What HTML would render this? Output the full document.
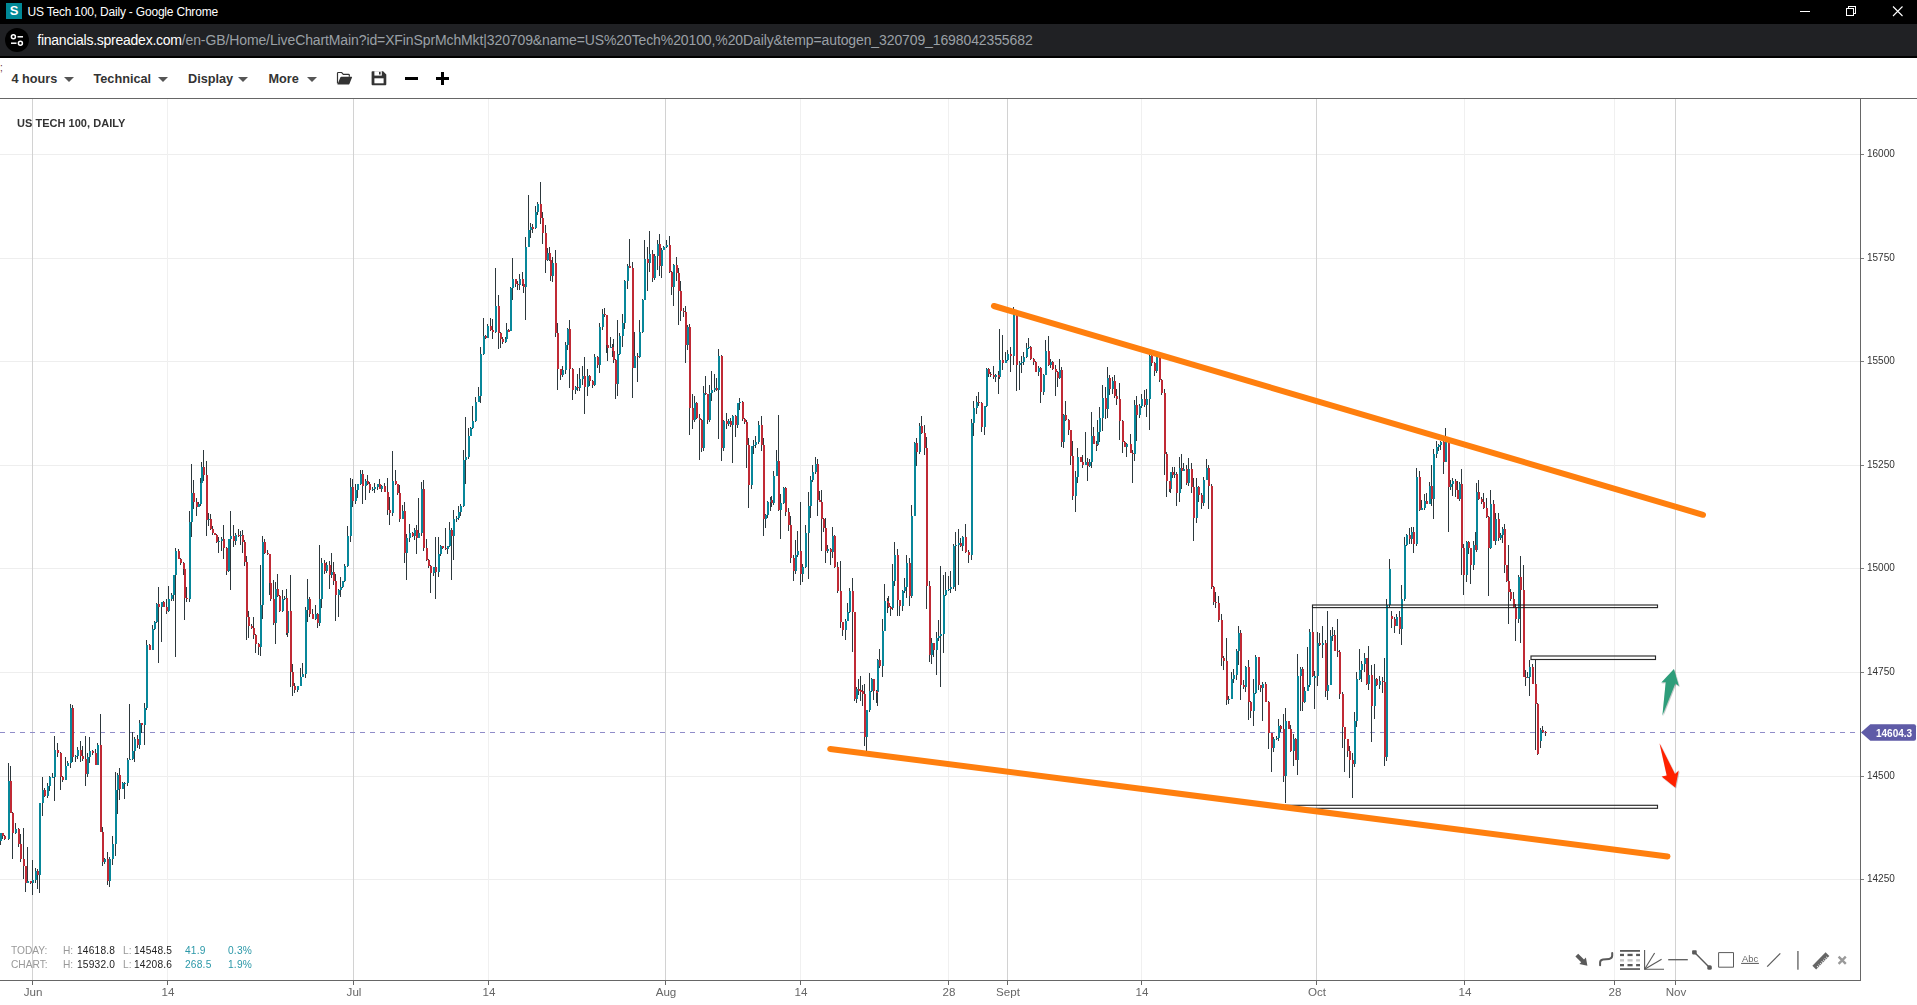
<!DOCTYPE html>
<html><head><meta charset="utf-8"><title>US Tech 100, Daily</title>
<style>
*{box-sizing:border-box;margin:0;padding:0}
html,body{width:1917px;height:1005px;overflow:hidden;background:#fff;font-family:"Liberation Sans",sans-serif;}
#root{position:relative;width:1917px;height:1005px;overflow:hidden;background:#fff}
#titlebar{position:absolute;left:0;top:0;width:1917px;height:24px;background:#000}
#fav{position:absolute;left:6px;top:3px;width:16px;height:16px;background:#008896;color:#fff;font-weight:bold;font-size:13px;line-height:16px;text-align:center}
#title{position:absolute;left:27.5px;top:5px;color:#fff;font-size:12px;line-height:15px;white-space:nowrap;letter-spacing:-0.2px}
#urlbar{position:absolute;left:0;top:24px;width:1917px;height:32px;background:#202124}
#urlsep{position:absolute;left:0;top:56px;width:1917px;height:2px;background:#000}
#tune{position:absolute;left:5px;top:4px;width:24px;height:24px;border-radius:12px;background:#000}
#url{position:absolute;left:37.3px;top:7px;font-size:14px;line-height:18px;color:#9aa0a6;white-space:nowrap;letter-spacing:-0.11px}
#url b{color:#fff;font-weight:normal;letter-spacing:-0.25px}
#toolbar{position:absolute;left:0;top:58px;width:1917px;height:40px;background:#fff}
#tbline{position:absolute;left:0;top:98px;width:1917px;height:1px;background:#666}
.tb{position:absolute;top:13px;font-size:12.7px;line-height:16px;font-weight:bold;color:#333;white-space:nowrap}
.car{position:absolute;top:19px;width:0;height:0;border-left:5px solid transparent;border-right:5px solid transparent;border-top:5px solid #555}
#chartwrap{position:absolute;left:0;top:0;width:1917px;height:1005px}
#charttitle{position:absolute;left:16.5px;top:117px;font-size:11px;letter-spacing:0.03px;line-height:13px;font-weight:bold;color:#333;white-space:nowrap}
#yaxis{position:absolute;left:1860px;top:99px;width:1px;height:882px;background:#666}
#xaxis{position:absolute;left:0;top:980px;width:1861px;height:1px;background:#666}
.yl{position:absolute;left:1867px;font-size:10px;letter-spacing:0px;line-height:13px;color:#333;margin-top:0px}
.yt{position:absolute;left:1861px;width:3px;height:1px;background:#7a7a7a}
.xl{position:absolute;top:984px;width:60px;text-align:center;font-size:11.6px;line-height:15px;color:#666}
.xt{position:absolute;top:981px;width:1px;height:4px;background:#666}
#ptag{position:absolute;left:1861px;top:724px;width:56px;height:17px}
#ptagtxt{position:absolute;left:1875.8px;top:726.5px;font-size:10px;line-height:13px;font-weight:bold;color:#fff}
.st{position:absolute;font-size:10.2px;line-height:12px;white-space:nowrap;letter-spacing:0px}
.g{color:#999}.d{color:#222;letter-spacing:0.2px}.t{color:#2b98a8;letter-spacing:0.2px}
#semi{position:absolute;left:0;top:62px;font-size:10px;color:#6a3030;line-height:12px}
.yl,.xl,.st,#charttitle,#ptagtxt{will-change:transform}
</style></head><body><div id="root">
<div id="chartwrap"><svg id="chart" width="1917" height="1005" viewBox="0 0 1917 1005">
<g shape-rendering="crispEdges"><rect x="0" y="154.0" width="1860" height="1" fill="#eeeeee"/><rect x="0" y="258.0" width="1860" height="1" fill="#eeeeee"/><rect x="0" y="361.0" width="1860" height="1" fill="#eeeeee"/><rect x="0" y="465.0" width="1860" height="1" fill="#eeeeee"/><rect x="0" y="568.0" width="1860" height="1" fill="#eeeeee"/><rect x="0" y="672.0" width="1860" height="1" fill="#eeeeee"/><rect x="0" y="776.0" width="1860" height="1" fill="#eeeeee"/><rect x="0" y="879.0" width="1860" height="1" fill="#eeeeee"/><rect x="32" y="99" width="1" height="881" fill="#d2d2d2"/><rect x="167" y="99" width="1" height="881" fill="#f0f0f0"/><rect x="353" y="99" width="1" height="881" fill="#d2d2d2"/><rect x="488" y="99" width="1" height="881" fill="#f0f0f0"/><rect x="665" y="99" width="1" height="881" fill="#d2d2d2"/><rect x="800" y="99" width="1" height="881" fill="#f0f0f0"/><rect x="948" y="99" width="1" height="881" fill="#f0f0f0"/><rect x="1007" y="99" width="1" height="881" fill="#d2d2d2"/><rect x="1141" y="99" width="1" height="881" fill="#f0f0f0"/><rect x="1316" y="99" width="1" height="881" fill="#d2d2d2"/><rect x="1464" y="99" width="1" height="881" fill="#f0f0f0"/><rect x="1614" y="99" width="1" height="881" fill="#f0f0f0"/><rect x="1675" y="99" width="1" height="881" fill="#d2d2d2"/></g>
<path d="M0 732.5H1856" stroke="#8f8cc9" stroke-width="1" stroke-dasharray="5 5" fill="none"/>
<g shape-rendering="crispEdges"><path d="M0 832.9h1V845.1h-1zM2 833.2h1V839.1h-1zM4 834.8h1V839.6h-1zM8 763.3h1V839.5h-1zM10 766.3h1V812.8h-1zM12 812.2h1V858.8h-1zM15 822.8h1V833.9h-1zM18 828.1h1V847.3h-1zM20 833.6h1V861.8h-1zM23 827.5h1V879.4h-1zM25 866.1h1V892.2h-1zM27 846.9h1V883.2h-1zM30 880.8h1V884.0h-1zM32 860.3h1V894.6h-1zM35 867.7h1V883.3h-1zM37 869.1h1V888.7h-1zM39 802.5h1V893.1h-1zM42 777.3h1V815.5h-1zM44 788.2h1V797.4h-1zM47 782.6h1V798.2h-1zM49 776.1h1V791.2h-1zM52 772.5h1V778.3h-1zM54 736.4h1V800.6h-1zM57 743.2h1V757.4h-1zM60 751.6h1V790.4h-1zM62 776.3h1V781.6h-1zM65 757.3h1V780.3h-1zM67 760.9h1V766.4h-1zM70 704.2h1V768.3h-1zM72 705.1h1V761.8h-1zM75 754.5h1V761.5h-1zM77 746.7h1V758.9h-1zM80 740.9h1V762.2h-1zM82 745.7h1V761.1h-1zM85 736.4h1V785.7h-1zM87 753.1h1V777.4h-1zM89 737.3h1V763.4h-1zM92 750.2h1V754.5h-1zM95 749.0h1V764.9h-1zM97 743.2h1V765.4h-1zM100 714.0h1V832.2h-1zM102 826.8h1V866.3h-1zM104 857.8h1V863.5h-1zM107 851.6h1V885.1h-1zM109 856.7h1V887.2h-1zM112 836.4h1V864.8h-1zM115 772.2h1V855.8h-1zM117 773.3h1V814.0h-1zM119 767.7h1V799.7h-1zM122 782.1h1V789.3h-1zM124 781.8h1V799.1h-1zM127 758.0h1V785.8h-1zM129 704.2h1V760.3h-1zM132 731.9h1V760.4h-1zM134 736.5h1V762.1h-1zM137 735.3h1V747.9h-1zM139 719.6h1V749.3h-1zM141 722.8h1V733.1h-1zM144 702.8h1V745.4h-1zM146 639.8h1V709.8h-1zM149 643.6h1V650.2h-1zM152 625.4h1V650.1h-1zM154 621.2h1V629.8h-1zM156 603.0h1V622.9h-1zM158 587.2h1V663.3h-1zM161 601.5h1V642.4h-1zM163 600.5h1V606.7h-1zM166 599.3h1V614.4h-1zM168 586.3h1V612.1h-1zM171 593.1h1V600.7h-1zM173 574.8h1V601.2h-1zM175 548.4h1V657.3h-1zM178 549.0h1V559.1h-1zM180 558.4h1V564.8h-1zM183 562.2h1V575.4h-1zM184 568.6h1V620.0h-1zM186 587.1h1V601.7h-1zM189 511.0h1V601.8h-1zM191 464.2h1V537.0h-1zM193 479.7h1V509.1h-1zM196 497.9h1V515.5h-1zM198 502.0h1V507.2h-1zM200 477.5h1V506.2h-1zM201 461.9h1V484.1h-1zM203 449.9h1V481.1h-1zM206 461.2h1V536.4h-1zM208 512.8h1V526.0h-1zM210 513.8h1V529.9h-1zM212 526.4h1V535.0h-1zM214 533.3h1V535.0h-1zM216 533.8h1V543.4h-1zM218 536.8h1V553.4h-1zM221 537.3h1V550.6h-1zM223 525.4h1V559.2h-1zM226 546.8h1V574.6h-1zM228 538.5h1V571.5h-1zM230 511.0h1V589.6h-1zM233 524.5h1V547.3h-1zM235 532.6h1V544.6h-1zM238 529.3h1V536.7h-1zM240 531.1h1V544.8h-1zM242 529.6h1V552.8h-1zM244 540.1h1V566.3h-1zM246 556.3h1V640.3h-1zM248 611.4h1V638.4h-1zM251 624.2h1V629.3h-1zM253 617.2h1V639.4h-1zM255 634.3h1V653.4h-1zM258 643.3h1V655.1h-1zM260 564.8h1V655.8h-1zM262 536.3h1V618.8h-1zM264 538.6h1V554.3h-1zM267 550.1h1V554.8h-1zM269 554.3h1V595.1h-1zM270 579.0h1V600.6h-1zM273 579.7h1V625.0h-1zM275 581.5h1V643.9h-1zM277 573.7h1V597.1h-1zM279 594.9h1V612.0h-1zM282 589.6h1V612.1h-1zM284 595.7h1V599.6h-1zM286 589.2h1V634.9h-1zM287 608.9h1V636.5h-1zM290 574.6h1V687.2h-1zM292 663.5h1V696.1h-1zM294 683.0h1V692.7h-1zM297 685.6h1V692.2h-1zM300 667.8h1V685.7h-1zM302 663.3h1V677.4h-1zM305 607.3h1V678.3h-1zM307 579.1h1V621.5h-1zM309 596.5h1V616.9h-1zM312 608.7h1V618.9h-1zM315 604.5h1V619.5h-1zM317 612.9h1V627.5h-1zM319 545.4h1V625.9h-1zM321 558.3h1V607.6h-1zM324 560.3h1V574.1h-1zM326 562.3h1V573.3h-1zM329 560.6h1V588.7h-1zM331 553.4h1V577.5h-1zM333 562.3h1V585.4h-1zM335 573.9h1V620.6h-1zM338 589.1h1V617.0h-1zM340 577.1h1V596.6h-1zM342 580.7h1V587.6h-1zM344 564.2h1V581.5h-1zM347 526.0h1V566.5h-1zM350 478.2h1V541.8h-1zM352 479.2h1V506.6h-1zM355 484.2h1V504.4h-1zM357 483.6h1V497.7h-1zM360 470.1h1V485.0h-1zM362 470.1h1V503.6h-1zM365 478.9h1V499.7h-1zM367 474.9h1V484.8h-1zM369 482.2h1V492.7h-1zM372 487.2h1V490.9h-1zM374 482.7h1V493.1h-1zM377 484.1h1V490.0h-1zM379 479.1h1V488.7h-1zM381 484.9h1V492.1h-1zM384 483.3h1V491.9h-1zM387 477.6h1V515.0h-1zM389 497.1h1V524.5h-1zM392 450.7h1V515.5h-1zM395 470.1h1V485.3h-1zM397 483.7h1V495.1h-1zM399 484.7h1V521.5h-1zM402 505.1h1V519.1h-1zM404 502.2h1V563.3h-1zM406 533.7h1V580.3h-1zM409 523.9h1V542.0h-1zM412 531.5h1V536.7h-1zM414 528.1h1V539.9h-1zM416 524.8h1V554.3h-1zM418 498.2h1V538.2h-1zM421 481.7h1V535.5h-1zM423 480.0h1V550.6h-1zM426 538.6h1V560.8h-1zM428 559.2h1V568.3h-1zM430 564.7h1V592.5h-1zM433 566.5h1V576.1h-1zM435 536.7h1V599.4h-1zM438 537.3h1V576.6h-1zM440 545.1h1V556.2h-1zM442 545.6h1V549.3h-1zM445 528.4h1V550.3h-1zM447 546.2h1V553.9h-1zM449 522.4h1V547.0h-1zM451 527.6h1V579.7h-1zM453 510.4h1V559.7h-1zM456 515.9h1V521.8h-1zM458 505.6h1V519.7h-1zM460 503.5h1V516.0h-1zM463 450.1h1V507.4h-1zM465 417.0h1V483.6h-1zM468 428.4h1V458.5h-1zM470 426.9h1V436.0h-1zM472 406.0h1V428.6h-1zM475 396.8h1V421.9h-1zM478 386.6h1V401.8h-1zM480 347.3h1V402.7h-1zM483 318.2h1V354.9h-1zM485 334.6h1V338.8h-1zM487 323.5h1V338.2h-1zM490 318.2h1V331.2h-1zM492 318.7h1V339.1h-1zM495 268.1h1V332.6h-1zM498 294.5h1V348.7h-1zM500 331.6h1V348.1h-1zM502 337.4h1V344.3h-1zM505 336.7h1V342.9h-1zM506 322.7h1V339.1h-1zM508 329.1h1V331.1h-1zM510 286.6h1V330.9h-1zM512 257.9h1V299.7h-1zM515 278.5h1V287.0h-1zM517 281.2h1V290.2h-1zM519 274.3h1V289.8h-1zM522 272.0h1V285.6h-1zM523 282.5h1V292.8h-1zM525 237.0h1V319.7h-1zM528 195.2h1V246.7h-1zM530 222.7h1V237.9h-1zM532 223.7h1V232.7h-1zM535 206.4h1V228.6h-1zM537 201.6h1V214.7h-1zM540 181.8h1V223.9h-1zM542 212.1h1V243.6h-1zM545 225.3h1V272.8h-1zM547 248.4h1V260.9h-1zM549 247.2h1V260.5h-1zM550 258.4h1V280.9h-1zM552 256.7h1V282.4h-1zM555 250.1h1V336.6h-1zM557 322.7h1V390.4h-1zM560 368.9h1V380.3h-1zM562 365.6h1V377.4h-1zM565 342.4h1V374.2h-1zM567 328.4h1V349.7h-1zM569 319.7h1V388.4h-1zM572 367.9h1V399.7h-1zM575 386.1h1V394.3h-1zM577 373.9h1V390.7h-1zM579 367.5h1V390.6h-1zM582 366.0h1V384.5h-1zM584 357.0h1V413.7h-1zM587 369.0h1V395.8h-1zM589 375.4h1V385.7h-1zM592 379.6h1V388.3h-1zM594 354.0h1V385.6h-1zM597 355.9h1V368.4h-1zM599 323.0h1V373.4h-1zM602 309.3h1V329.7h-1zM604 307.8h1V317.4h-1zM606 314.8h1V352.9h-1zM607 333.1h1V361.4h-1zM610 336.9h1V348.1h-1zM612 344.4h1V357.0h-1zM613 339.0h1V363.0h-1zM615 358.9h1V398.8h-1zM617 319.7h1V395.8h-1zM619 333.1h1V354.6h-1zM622 313.7h1V346.8h-1zM624 280.4h1V328.7h-1zM627 263.9h1V288.5h-1zM629 239.1h1V268.4h-1zM632 262.4h1V397.9h-1zM634 331.6h1V367.5h-1zM637 353.2h1V382.4h-1zM639 319.7h1V357.5h-1zM642 298.8h1V333.0h-1zM644 240.0h1V300.3h-1zM647 247.2h1V291.3h-1zM649 231.0h1V272.1h-1zM652 249.7h1V282.4h-1zM654 254.3h1V279.5h-1zM657 240.0h1V269.5h-1zM659 234.0h1V275.8h-1zM661 247.6h1V277.9h-1zM663 246.4h1V249.9h-1zM666 240.0h1V247.7h-1zM669 235.5h1V272.9h-1zM671 270.9h1V294.9h-1zM673 263.7h1V305.7h-1zM676 257.0h1V281.0h-1zM678 267.6h1V324.8h-1zM680 280.9h1V320.6h-1zM683 308.0h1V316.7h-1zM685 306.3h1V363.0h-1zM687 325.1h1V350.0h-1zM689 323.5h1V434.6h-1zM692 394.3h1V428.9h-1zM694 395.8h1V421.9h-1zM696 401.8h1V419.4h-1zM699 413.5h1V460.0h-1zM701 418.6h1V451.8h-1zM703 386.0h1V450.9h-1zM705 376.4h1V395.0h-1zM707 393.7h1V424.2h-1zM709 384.6h1V422.1h-1zM711 371.3h1V401.1h-1zM714 374.4h1V391.9h-1zM716 377.9h1V390.6h-1zM718 348.7h1V439.1h-1zM721 355.2h1V461.2h-1zM723 419.8h1V450.7h-1zM726 413.4h1V428.7h-1zM728 419.0h1V425.8h-1zM730 418.3h1V427.0h-1zM732 415.0h1V462.7h-1zM735 415.3h1V437.4h-1zM737 402.5h1V427.8h-1zM739 398.0h1V409.9h-1zM742 400.6h1V420.5h-1zM744 418.4h1V424.2h-1zM746 420.3h1V468.1h-1zM748 438.2h1V507.5h-1zM751 446.2h1V489.0h-1zM753 440.4h1V454.2h-1zM755 435.8h1V447.9h-1zM758 420.9h1V443.5h-1zM761 416.2h1V450.9h-1zM763 438.0h1V536.4h-1zM765 513.9h1V528.4h-1zM767 500.9h1V517.5h-1zM770 497.0h1V511.4h-1zM771 495.5h1V506.6h-1zM773 471.1h1V504.5h-1zM776 450.1h1V476.3h-1zM778 414.9h1V511.4h-1zM780 494.1h1V539.4h-1zM783 486.8h1V503.5h-1zM785 486.6h1V515.5h-1zM788 507.7h1V531.3h-1zM790 516.4h1V562.7h-1zM793 555.1h1V580.6h-1zM795 540.3h1V574.0h-1zM797 531.3h1V556.5h-1zM800 502.4h1V584.5h-1zM802 563.5h1V581.6h-1zM805 525.4h1V568.1h-1zM808 491.9h1V579.1h-1zM810 475.7h1V517.9h-1zM812 465.1h1V482.4h-1zM815 456.7h1V473.5h-1zM817 459.1h1V516.4h-1zM819 490.9h1V502.4h-1zM821 489.6h1V550.7h-1zM823 517.5h1V532.4h-1zM825 517.9h1V562.7h-1zM827 544.6h1V553.2h-1zM830 548.4h1V564.5h-1zM832 526.9h1V558.2h-1zM834 534.9h1V568.0h-1zM837 562.2h1V593.4h-1zM840 561.2h1V627.5h-1zM842 621.7h1V635.8h-1zM845 619.0h1V640.3h-1zM847 603.0h1V621.4h-1zM849 588.1h1V612.8h-1zM852 578.3h1V652.2h-1zM854 611.8h1V701.2h-1zM856 687.4h1V703.4h-1zM858 679.3h1V694.9h-1zM860 676.3h1V700.7h-1zM862 685.2h1V705.6h-1zM864 684.4h1V746.1h-1zM866 709.8h1V750.5h-1zM869 673.2h1V711.6h-1zM871 677.9h1V692.0h-1zM873 679.3h1V700.1h-1zM876 689.8h1V703.3h-1zM877 659.1h1V705.6h-1zM879 649.3h1V667.7h-1zM882 619.1h1V676.7h-1zM884 584.1h1V631.3h-1zM887 598.3h1V612.5h-1zM888 596.1h1V607.8h-1zM890 605.5h1V616.1h-1zM892 563.6h1V610.0h-1zM894 541.8h1V585.7h-1zM897 549.3h1V616.4h-1zM899 599.8h1V616.4h-1zM902 590.0h1V610.8h-1zM904 577.6h1V592.5h-1zM906 555.2h1V597.6h-1zM909 558.2h1V606.0h-1zM911 505.1h1V597.7h-1zM914 442.2h1V516.4h-1zM916 438.4h1V465.7h-1zM919 422.8h1V453.7h-1zM921 416.4h1V433.8h-1zM924 425.4h1V454.6h-1zM926 437.0h1V608.6h-1zM929 581.2h1V661.8h-1zM931 637.7h1V664.4h-1zM933 642.5h1V657.4h-1zM936 632.2h1V674.5h-1zM938 620.2h1V641.0h-1zM940 566.1h1V686.5h-1zM943 575.3h1V653.0h-1zM945 572.0h1V595.8h-1zM948 576.4h1V590.5h-1zM950 570.9h1V592.8h-1zM953 543.5h1V588.7h-1zM955 532.2h1V591.0h-1zM958 529.3h1V584.5h-1zM960 537.9h1V546.6h-1zM962 535.8h1V550.6h-1zM965 523.9h1V553.2h-1zM968 550.4h1V562.7h-1zM971 418.9h1V559.7h-1zM973 401.3h1V435.7h-1zM976 396.0h1V414.3h-1zM978 391.5h1V406.4h-1zM981 401.8h1V432.0h-1zM984 405.6h1V434.8h-1zM986 368.1h1V407.0h-1zM988 368.2h1V376.6h-1zM990 372.2h1V376.8h-1zM993 366.1h1V379.0h-1zM995 374.2h1V382.4h-1zM998 371.4h1V393.6h-1zM999 328.8h1V378.8h-1zM1002 334.8h1V369.6h-1zM1005 351.5h1V363.3h-1zM1007 349.7h1V360.6h-1zM1010 346.7h1V372.1h-1zM1013 307.3h1V365.0h-1zM1016 313.7h1V390.6h-1zM1019 361.0h1V390.0h-1zM1021 356.4h1V373.3h-1zM1023 352.1h1V364.8h-1zM1026 343.1h1V358.0h-1zM1028 337.8h1V348.7h-1zM1030 345.9h1V359.7h-1zM1033 358.1h1V365.3h-1zM1035 360.8h1V372.1h-1zM1038 366.2h1V376.1h-1zM1040 366.9h1V403.4h-1zM1043 374.3h1V394.5h-1zM1045 340.1h1V375.3h-1zM1048 336.3h1V366.4h-1zM1050 358.8h1V368.2h-1zM1052 361.3h1V369.7h-1zM1055 364.9h1V396.0h-1zM1057 370.9h1V387.0h-1zM1059 359.3h1V379.4h-1zM1061 367.1h1V446.7h-1zM1063 413.5h1V448.2h-1zM1065 401.4h1V421.4h-1zM1068 419.1h1V434.9h-1zM1070 429.5h1V464.6h-1zM1072 440.7h1V500.4h-1zM1075 470.6h1V512.4h-1zM1077 448.2h1V482.5h-1zM1080 456.5h1V461.7h-1zM1082 455.1h1V468.2h-1zM1085 432.4h1V465.0h-1zM1087 458.2h1V481.0h-1zM1089 459.2h1V466.7h-1zM1091 412.4h1V468.2h-1zM1093 427.2h1V444.1h-1zM1096 441.4h1V450.9h-1zM1097 419.9h1V446.0h-1zM1099 407.0h1V441.8h-1zM1102 384.5h1V430.9h-1zM1105 387.0h1V418.5h-1zM1107 367.0h1V417.6h-1zM1109 374.7h1V394.6h-1zM1112 376.6h1V393.9h-1zM1114 375.1h1V397.8h-1zM1116 389.4h1V405.1h-1zM1119 383.1h1V439.9h-1zM1122 419.6h1V452.7h-1zM1124 440.5h1V447.2h-1zM1126 442.7h1V457.2h-1zM1130 434.2h1V452.8h-1zM1132 449.8h1V483.4h-1zM1134 400.4h1V460.6h-1zM1136 396.0h1V440.7h-1zM1139 403.6h1V418.4h-1zM1141 393.9h1V408.3h-1zM1144 390.0h1V406.9h-1zM1146 388.5h1V416.9h-1zM1149 353.7h1V430.3h-1zM1151 354.2h1V365.5h-1zM1154 362.2h1V375.6h-1zM1156 351.9h1V372.7h-1zM1159 356.5h1V381.8h-1zM1161 379.2h1V394.5h-1zM1164 388.5h1V474.5h-1zM1166 452.1h1V496.6h-1zM1169 480.9h1V492.0h-1zM1170 471.8h1V493.1h-1zM1172 466.8h1V477.6h-1zM1174 466.7h1V477.5h-1zM1176 471.9h1V506.4h-1zM1179 456.6h1V501.9h-1zM1181 453.6h1V488.5h-1zM1183 463.2h1V471.4h-1zM1186 464.6h1V484.9h-1zM1188 458.1h1V485.5h-1zM1191 462.5h1V492.5h-1zM1193 477.7h1V540.7h-1zM1196 478.1h1V523.3h-1zM1198 485.5h1V502.4h-1zM1201 493.4h1V509.4h-1zM1203 476.6h1V505.9h-1zM1206 458.8h1V480.4h-1zM1208 464.6h1V509.4h-1zM1211 484.2h1V589.1h-1zM1213 586.0h1V604.6h-1zM1215 592.0h1V608.2h-1zM1218 595.7h1V621.9h-1zM1221 614.2h1V665.8h-1zM1223 655.7h1V670.3h-1zM1226 637.5h1V704.6h-1zM1228 695.8h1V703.7h-1zM1231 671.8h1V699.0h-1zM1233 668.8h1V682.7h-1zM1236 649.1h1V680.4h-1zM1238 626.1h1V664.9h-1zM1240 630.0h1V699.6h-1zM1243 680.2h1V688.8h-1zM1245 665.8h1V691.5h-1zM1248 659.9h1V719.6h-1zM1250 700.6h1V718.1h-1zM1253 678.7h1V725.5h-1zM1255 655.4h1V694.0h-1zM1258 656.9h1V689.7h-1zM1260 684.7h1V691.6h-1zM1262 681.8h1V721.0h-1zM1265 682.2h1V702.1h-1zM1268 700.7h1V748.5h-1zM1271 732.9h1V772.4h-1zM1273 737.4h1V752.4h-1zM1276 735.9h1V739.8h-1zM1278 718.7h1V740.6h-1zM1280 724.7h1V731.9h-1zM1283 713.6h1V782.2h-1zM1285 708.2h1V803.1h-1zM1288 720.5h1V728.9h-1zM1290 724.9h1V752.4h-1zM1293 733.6h1V765.8h-1zM1295 737.9h1V759.9h-1zM1297 653.9h1V775.4h-1zM1300 667.3h1V711.2h-1zM1302 666.8h1V711.3h-1zM1304 686.6h1V703.1h-1zM1307 647.3h1V691.4h-1zM1309 628.8h1V687.0h-1zM1312 606.1h1V676.5h-1zM1314 671.0h1V708.5h-1zM1317 631.5h1V686.2h-1zM1319 633.0h1V645.7h-1zM1322 625.5h1V657.8h-1zM1325 639.8h1V697.1h-1zM1327 611.2h1V700.1h-1zM1330 630.0h1V685.4h-1zM1332 626.8h1V641.3h-1zM1334 630.1h1V650.9h-1zM1337 619.0h1V657.2h-1zM1339 650.2h1V698.9h-1zM1342 692.1h1V747.9h-1zM1344 726.6h1V771.8h-1zM1347 738.8h1V756.9h-1zM1349 746.0h1V777.8h-1zM1352 753.3h1V798.1h-1zM1354 712.1h1V767.2h-1zM1356 671.8h1V726.5h-1zM1359 648.5h1V680.3h-1zM1361 660.7h1V682.0h-1zM1364 653.0h1V671.8h-1zM1366 658.3h1V684.8h-1zM1368 646.4h1V689.7h-1zM1371 664.6h1V741.9h-1zM1374 664.3h1V718.7h-1zM1376 677.9h1V686.2h-1zM1379 676.3h1V688.7h-1zM1382 676.6h1V692.7h-1zM1384 658.4h1V765.8h-1zM1386 598.7h1V761.1h-1zM1389 558.8h1V607.1h-1zM1391 611.0h1V627.5h-1zM1394 617.2h1V633.4h-1zM1396 613.6h1V626.3h-1zM1399 611.0h1V634.3h-1zM1401 585.1h1V644.5h-1zM1404 537.0h1V600.6h-1zM1406 534.4h1V545.5h-1zM1409 528.1h1V543.5h-1zM1411 526.9h1V543.6h-1zM1413 527.3h1V553.4h-1zM1416 467.8h1V545.5h-1zM1419 470.8h1V511.0h-1zM1421 500.3h1V509.8h-1zM1424 493.5h1V509.6h-1zM1426 493.1h1V504.0h-1zM1429 482.1h1V504.0h-1zM1431 464.8h1V505.7h-1zM1433 448.5h1V519.4h-1zM1436 440.8h1V457.8h-1zM1438 444.2h1V451.3h-1zM1440 441.1h1V450.3h-1zM1443 440.7h1V473.7h-1zM1445 428.4h1V461.9h-1zM1448 441.3h1V531.9h-1zM1450 479.8h1V490.1h-1zM1452 478.2h1V495.8h-1zM1455 478.7h1V496.8h-1zM1457 481.2h1V499.2h-1zM1459 482.3h1V501.1h-1zM1461 469.3h1V575.2h-1zM1463 544.1h1V594.6h-1zM1466 540.9h1V582.2h-1zM1468 540.9h1V554.4h-1zM1470 547.7h1V583.6h-1zM1473 540.9h1V569.8h-1zM1475 532.0h1V549.9h-1zM1476 483.3h1V552.2h-1zM1478 479.7h1V499.8h-1zM1481 496.7h1V503.6h-1zM1483 493.1h1V509.1h-1zM1486 498.0h1V518.2h-1zM1488 516.2h1V596.1h-1zM1490 490.1h1V548.8h-1zM1493 500.0h1V541.2h-1zM1495 513.1h1V545.1h-1zM1498 513.1h1V541.4h-1zM1500 533.4h1V539.7h-1zM1502 527.2h1V542.7h-1zM1504 523.9h1V572.5h-1zM1506 564.7h1V582.0h-1zM1508 545.4h1V623.6h-1zM1510 589.2h1V600.8h-1zM1513 591.6h1V607.5h-1zM1515 604.4h1V640.9h-1zM1518 574.6h1V623.4h-1zM1520 556.4h1V643.3h-1zM1523 564.8h1V677.3h-1zM1525 670.2h1V685.8h-1zM1527 672.1h1V677.5h-1zM1529 659.9h1V695.7h-1zM1532 663.8h1V684.3h-1zM1535 659.9h1V750.4h-1zM1537 702.7h1V755.2h-1zM1540 728.3h1V747.5h-1zM1542 726.0h1V732.5h-1zM1545 731.3h1V736.1h-1z" fill="#2d383d"/><path d="M0 833.4h2V841.4h-2zM8 781.2h2V839.4h-2zM15 829.0h2V833.4h-2zM27 881.2h2V882.7h-2zM32 879.7h2V882.7h-2zM35 870.7h2V879.7h-2zM39 802.7h2V875.2h-2zM42 790.1h2V802.7h-2zM47 785.7h2V796.1h-2zM49 777.3h2V785.7h-2zM52 776.7h2V778.2h-2zM54 750.4h2V776.7h-2zM65 766.3h2V779.7h-2zM67 763.3h2V766.3h-2zM70 708.1h2V763.3h-2zM75 755.8h2V757.3h-2zM77 749.9h2V755.8h-2zM87 757.3h2V773.7h-2zM89 751.3h2V757.3h-2zM97 745.4h2V764.8h-2zM104 858.8h2V861.8h-2zM109 858.8h2V881.2h-2zM112 843.9h2V858.8h-2zM115 790.1h2V843.9h-2zM117 775.2h2V790.1h-2zM122 782.7h2V788.7h-2zM124 782.7h2V784.2h-2zM127 760.3h2V782.7h-2zM129 758.8h2V760.3h-2zM132 751.3h2V758.8h-2zM134 739.4h2V751.3h-2zM139 723.0h2V745.4h-2zM144 708.1h2V725.1h-2zM146 645.4h2V708.1h-2zM152 629.0h2V649.9h-2zM154 621.5h2V629.0h-2zM156 603.6h2V621.5h-2zM161 602.1h2V606.6h-2zM168 599.1h2V611.0h-2zM171 594.6h2V599.1h-2zM173 575.2h2V594.6h-2zM175 551.3h2V575.2h-2zM189 521.5h2V599.1h-2zM191 493.1h2V521.5h-2zM198 503.6h2V506.6h-2zM200 482.7h2V503.6h-2zM201 467.2h2V482.7h-2zM208 518.5h2V520.0h-2zM218 540.9h2V542.4h-2zM221 539.4h2V540.9h-2zM228 539.4h2V570.7h-2zM230 536.4h2V539.4h-2zM235 534.9h2V540.9h-2zM240 534.9h2V536.4h-2zM260 605.1h2V646.9h-2zM262 542.4h2V605.1h-2zM275 588.7h2V623.0h-2zM282 599.1h2V611.0h-2zM284 597.6h2V599.1h-2zM287 611.0h2V633.4h-2zM297 685.7h2V690.1h-2zM300 676.7h2V685.7h-2zM302 673.7h2V676.7h-2zM305 609.6h2V673.7h-2zM307 599.1h2V609.6h-2zM315 614.0h2V618.5h-2zM319 599.1h2V623.0h-2zM321 563.3h2V599.1h-2zM326 564.8h2V570.7h-2zM331 572.2h2V575.2h-2zM338 590.1h2V594.6h-2zM340 587.2h2V590.1h-2zM342 581.2h2V587.2h-2zM344 566.3h2V581.2h-2zM347 536.4h2V566.3h-2zM350 487.2h2V536.4h-2zM355 490.1h2V500.6h-2zM357 484.2h2V490.1h-2zM360 473.7h2V484.2h-2zM365 481.2h2V485.7h-2zM372 488.7h2V490.2h-2zM374 487.2h2V488.7h-2zM377 484.2h2V487.2h-2zM381 486.3h2V488.7h-2zM392 481.2h2V512.5h-2zM402 511.0h2V518.5h-2zM406 537.9h2V552.8h-2zM409 533.4h2V537.9h-2zM414 530.4h2V536.4h-2zM418 533.4h2V537.9h-2zM421 488.7h2V533.4h-2zM433 567.2h2V573.1h-2zM438 553.7h2V571.6h-2zM440 546.3h2V553.7h-2zM447 546.3h2V549.3h-2zM449 529.9h2V546.3h-2zM453 519.4h2V535.8h-2zM456 517.9h2V519.4h-2zM458 511.9h2V517.9h-2zM460 506.0h2V511.9h-2zM463 459.7h2V506.0h-2zM465 456.7h2V459.7h-2zM468 435.8h2V456.7h-2zM470 428.4h2V435.8h-2zM472 420.9h2V428.4h-2zM475 401.5h2V420.9h-2zM478 395.5h2V401.5h-2zM480 353.7h2V395.5h-2zM483 335.5h2V353.7h-2zM487 325.7h2V337.6h-2zM495 306.3h2V331.6h-2zM505 339.1h2V342.1h-2zM506 330.1h2V339.1h-2zM510 288.4h2V330.7h-2zM512 279.4h2V288.4h-2zM519 279.4h2V285.4h-2zM525 246.6h2V286.9h-2zM528 230.1h2V246.6h-2zM530 227.2h2V230.1h-2zM535 212.2h2V228.1h-2zM537 204.2h2V212.2h-2zM547 252.5h2V260.0h-2zM552 263.0h2V276.4h-2zM562 370.4h2V374.9h-2zM565 345.1h2V370.4h-2zM567 328.7h2V345.1h-2zM575 386.9h2V389.9h-2zM579 379.4h2V388.4h-2zM582 376.4h2V379.4h-2zM587 376.4h2V386.9h-2zM594 357.0h2V385.4h-2zM599 327.2h2V364.5h-2zM602 313.7h2V327.2h-2zM610 346.6h2V348.1h-2zM617 354.0h2V383.9h-2zM619 336.1h2V354.0h-2zM622 322.7h2V336.1h-2zM624 280.9h2V322.7h-2zM627 266.0h2V280.9h-2zM634 355.5h2V367.5h-2zM639 331.6h2V357.0h-2zM642 300.3h2V331.6h-2zM644 258.5h2V300.3h-2zM649 254.0h2V263.0h-2zM654 255.5h2V277.9h-2zM657 243.6h2V255.5h-2zM661 249.6h2V266.0h-2zM663 246.6h2V249.6h-2zM666 245.1h2V246.6h-2zM673 264.5h2V286.9h-2zM687 327.2h2V345.1h-2zM694 403.3h2V419.7h-2zM703 392.8h2V448.1h-2zM709 392.8h2V419.7h-2zM711 389.9h2V392.8h-2zM714 388.4h2V389.9h-2zM718 355.5h2V389.9h-2zM723 420.9h2V447.8h-2zM728 420.9h2V423.9h-2zM732 416.4h2V425.4h-2zM737 403.0h2V425.4h-2zM739 401.5h2V403.0h-2zM751 446.3h2V485.1h-2zM753 444.8h2V446.3h-2zM755 441.8h2V444.8h-2zM758 425.4h2V441.8h-2zM765 514.9h2V519.4h-2zM767 501.5h2V514.9h-2zM770 500.0h2V501.5h-2zM773 476.1h2V503.0h-2zM776 461.2h2V476.1h-2zM780 503.0h2V510.4h-2zM783 488.1h2V503.0h-2zM795 555.2h2V570.7h-2zM797 550.7h2V555.2h-2zM802 567.2h2V574.0h-2zM805 532.8h2V567.2h-2zM808 506.0h2V532.8h-2zM810 480.0h2V506.0h-2zM812 471.6h2V480.0h-2zM815 464.2h2V471.6h-2zM827 549.3h2V550.8h-2zM832 535.8h2V552.2h-2zM845 620.9h2V629.9h-2zM847 611.9h2V620.9h-2zM849 591.0h2V611.9h-2zM856 689.2h2V699.0h-2zM866 710.0h2V737.3h-2zM869 691.3h2V710.0h-2zM871 679.3h2V691.3h-2zM877 659.6h2V692.4h-2zM882 631.1h2V666.2h-2zM884 600.5h2V631.1h-2zM892 580.6h2V608.2h-2zM894 555.2h2V580.6h-2zM902 591.0h2V606.0h-2zM904 586.6h2V591.0h-2zM906 562.7h2V586.6h-2zM911 516.4h2V596.4h-2zM914 443.3h2V516.4h-2zM919 426.3h2V452.2h-2zM931 643.2h2V655.2h-2zM936 637.7h2V649.8h-2zM938 635.5h2V637.7h-2zM940 634.4h2V635.9h-2zM943 595.0h2V634.4h-2zM945 589.6h2V595.0h-2zM948 588.5h2V590.0h-2zM950 587.4h2V588.9h-2zM953 546.3h2V587.4h-2zM955 544.8h2V546.3h-2zM958 543.3h2V544.8h-2zM962 537.3h2V546.3h-2zM971 422.8h2V555.2h-2zM973 407.9h2V422.8h-2zM976 401.9h2V407.9h-2zM984 406.4h2V427.3h-2zM986 369.1h2V406.4h-2zM995 375.1h2V376.6h-2zM999 360.1h2V376.6h-2zM1005 360.1h2V363.1h-2zM1007 354.2h2V360.1h-2zM1013 315.4h2V355.7h-2zM1019 363.1h2V364.6h-2zM1021 361.6h2V363.1h-2zM1023 357.2h2V361.6h-2zM1026 348.2h2V357.2h-2zM1028 346.7h2V348.2h-2zM1038 367.6h2V372.1h-2zM1043 375.1h2V391.5h-2zM1045 351.2h2V375.1h-2zM1050 361.6h2V364.6h-2zM1059 370.0h2V378.1h-2zM1063 415.4h2V442.2h-2zM1075 476.6h2V496.0h-2zM1077 457.2h2V476.6h-2zM1085 461.6h2V464.6h-2zM1089 461.6h2V466.1h-2zM1091 436.3h2V461.6h-2zM1097 431.8h2V445.2h-2zM1099 418.4h2V431.8h-2zM1102 397.5h2V418.4h-2zM1107 378.1h2V409.4h-2zM1112 381.0h2V388.5h-2zM1126 443.7h2V446.7h-2zM1134 404.9h2V454.2h-2zM1139 406.4h2V415.4h-2zM1141 399.0h2V406.4h-2zM1146 399.0h2V404.9h-2zM1149 355.7h2V399.0h-2zM1156 357.2h2V370.6h-2zM1170 472.1h2V488.5h-2zM1174 473.6h2V475.1h-2zM1179 467.6h2V493.0h-2zM1183 469.1h2V470.6h-2zM1188 469.1h2V482.5h-2zM1196 487.0h2V518.4h-2zM1203 479.6h2V503.4h-2zM1206 467.6h2V479.6h-2zM1228 698.7h2V700.2h-2zM1231 679.3h2V698.7h-2zM1233 674.8h2V679.3h-2zM1236 650.9h2V674.8h-2zM1238 633.0h2V650.9h-2zM1245 667.3h2V686.7h-2zM1253 692.7h2V710.6h-2zM1255 656.9h2V692.7h-2zM1262 683.7h2V688.2h-2zM1273 739.0h2V747.9h-2zM1276 737.5h2V739.0h-2zM1278 725.5h2V737.5h-2zM1285 721.0h2V776.3h-2zM1293 739.0h2V750.9h-2zM1297 676.3h2V759.9h-2zM1300 668.8h2V676.3h-2zM1304 691.2h2V701.6h-2zM1307 685.2h2V691.2h-2zM1309 631.5h2V685.2h-2zM1314 676.3h2V677.8h-2zM1317 643.4h2V676.3h-2zM1322 643.4h2V644.9h-2zM1327 685.2h2V691.2h-2zM1330 636.0h2V685.2h-2zM1332 634.5h2V636.0h-2zM1354 721.0h2V764.3h-2zM1356 679.3h2V721.0h-2zM1359 670.3h2V679.3h-2zM1361 664.3h2V670.3h-2zM1364 658.4h2V664.3h-2zM1368 674.8h2V683.7h-2zM1374 679.3h2V706.1h-2zM1379 680.7h2V685.2h-2zM1386 605.1h2V756.9h-2zM1389 569.3h2V605.1h-2zM1396 617.0h2V626.0h-2zM1401 599.1h2V629.0h-2zM1404 545.4h2V599.1h-2zM1406 534.9h2V545.4h-2zM1411 531.9h2V539.4h-2zM1416 476.7h2V543.9h-2zM1421 508.1h2V509.6h-2zM1424 500.6h2V508.1h-2zM1429 485.7h2V503.6h-2zM1433 454.3h2V499.1h-2zM1436 446.9h2V454.3h-2zM1438 445.4h2V446.9h-2zM1440 441.5h2V445.4h-2zM1445 442.4h2V461.8h-2zM1450 484.2h2V487.2h-2zM1452 481.2h2V484.2h-2zM1459 484.2h2V499.1h-2zM1466 542.4h2V575.2h-2zM1473 545.4h2V564.8h-2zM1476 491.6h2V549.9h-2zM1490 503.6h2V548.4h-2zM1495 518.5h2V540.9h-2zM1500 534.9h2V537.9h-2zM1502 529.0h2V534.9h-2zM1518 576.7h2V618.5h-2zM1527 676.8h2V678.3h-2zM1529 666.9h2V676.8h-2zM1540 729.6h2V740.5h-2z" fill="#08879a"/><path d="M2 833.4h2V836.4h-2zM4 836.4h2V839.4h-2zM10 781.2h2V812.5h-2zM12 812.5h2V833.4h-2zM18 829.0h2V843.9h-2zM20 843.9h2V858.8h-2zM23 858.8h2V866.3h-2zM25 866.3h2V882.7h-2zM30 881.2h2V882.7h-2zM37 870.7h2V875.2h-2zM44 790.1h2V796.1h-2zM57 750.4h2V752.8h-2zM60 752.8h2V776.7h-2zM62 776.7h2V779.7h-2zM72 708.1h2V757.3h-2zM80 749.9h2V755.8h-2zM82 755.8h2V758.8h-2zM85 758.8h2V773.7h-2zM92 751.3h2V752.8h-2zM95 752.8h2V764.8h-2zM100 745.4h2V831.9h-2zM102 831.9h2V861.8h-2zM107 858.8h2V881.2h-2zM119 775.2h2V788.7h-2zM137 739.4h2V745.4h-2zM141 723.0h2V725.1h-2zM149 645.4h2V649.9h-2zM158 603.6h2V606.6h-2zM163 602.1h2V606.6h-2zM166 606.6h2V611.0h-2zM178 551.3h2V558.8h-2zM180 558.8h2V563.3h-2zM183 563.3h2V569.3h-2zM184 569.3h2V597.6h-2zM186 597.6h2V599.1h-2zM193 493.1h2V502.1h-2zM196 502.1h2V506.6h-2zM203 467.2h2V475.2h-2zM206 475.2h2V520.0h-2zM210 518.5h2V529.0h-2zM212 529.0h2V533.4h-2zM214 533.4h2V534.9h-2zM216 534.9h2V542.4h-2zM223 539.4h2V548.4h-2zM226 548.4h2V570.7h-2zM233 536.4h2V540.9h-2zM238 534.9h2V536.4h-2zM242 534.9h2V542.4h-2zM244 542.4h2V561.8h-2zM246 561.8h2V617.0h-2zM248 617.0h2V626.0h-2zM251 626.0h2V627.5h-2zM253 627.5h2V634.9h-2zM255 634.9h2V643.9h-2zM258 643.9h2V646.9h-2zM264 542.4h2V552.8h-2zM267 552.8h2V554.3h-2zM269 554.3h2V582.7h-2zM270 582.7h2V599.1h-2zM273 599.1h2V623.0h-2zM277 588.7h2V596.1h-2zM279 596.1h2V611.0h-2zM286 597.6h2V633.4h-2zM290 611.0h2V672.2h-2zM292 672.2h2V685.7h-2zM294 685.7h2V690.1h-2zM309 599.1h2V614.0h-2zM312 614.0h2V618.5h-2zM317 614.0h2V623.0h-2zM324 563.3h2V570.7h-2zM329 564.8h2V575.2h-2zM333 572.2h2V581.2h-2zM335 581.2h2V594.6h-2zM352 487.2h2V500.6h-2zM362 473.7h2V485.7h-2zM367 481.2h2V484.2h-2zM369 484.2h2V490.1h-2zM379 484.2h2V488.7h-2zM384 486.3h2V491.6h-2zM387 491.6h2V509.6h-2zM389 509.6h2V512.5h-2zM395 481.2h2V484.2h-2zM397 484.2h2V493.1h-2zM399 493.1h2V518.5h-2zM404 511.0h2V552.8h-2zM412 533.4h2V536.4h-2zM416 530.4h2V537.9h-2zM423 488.7h2V547.8h-2zM426 547.8h2V559.7h-2zM428 559.7h2V565.7h-2zM430 565.7h2V573.1h-2zM435 567.2h2V571.6h-2zM442 546.3h2V547.8h-2zM445 547.8h2V549.3h-2zM451 529.9h2V535.8h-2zM485 335.5h2V337.6h-2zM490 325.7h2V330.1h-2zM492 330.1h2V331.6h-2zM498 306.3h2V333.1h-2zM500 333.1h2V339.1h-2zM502 339.1h2V342.1h-2zM508 330.1h2V331.6h-2zM515 279.4h2V283.9h-2zM517 283.9h2V285.4h-2zM522 279.4h2V283.9h-2zM523 283.9h2V286.9h-2zM532 227.2h2V228.7h-2zM540 204.2h2V218.2h-2zM542 218.2h2V233.1h-2zM545 233.1h2V260.0h-2zM549 252.5h2V260.0h-2zM550 260.0h2V276.4h-2zM555 263.0h2V333.1h-2zM557 333.1h2V369.0h-2zM560 369.0h2V374.9h-2zM569 328.7h2V369.0h-2zM572 369.0h2V389.9h-2zM577 386.9h2V388.4h-2zM584 376.4h2V386.9h-2zM589 376.4h2V380.9h-2zM592 380.9h2V385.4h-2zM597 357.0h2V364.5h-2zM604 313.7h2V315.2h-2zM606 315.2h2V345.1h-2zM607 345.1h2V348.1h-2zM612 346.6h2V351.0h-2zM613 351.0h2V360.0h-2zM615 360.0h2V383.9h-2zM629 266.0h2V267.5h-2zM632 267.5h2V367.5h-2zM637 355.5h2V357.0h-2zM647 258.5h2V263.0h-2zM652 254.0h2V277.9h-2zM659 243.6h2V266.0h-2zM669 245.1h2V271.9h-2zM671 271.9h2V286.9h-2zM676 264.5h2V273.4h-2zM678 273.4h2V291.3h-2zM680 291.3h2V310.7h-2zM683 310.7h2V312.2h-2zM685 312.2h2V345.1h-2zM689 327.2h2V407.8h-2zM692 407.8h2V419.7h-2zM696 403.3h2V418.2h-2zM699 418.2h2V419.7h-2zM701 419.7h2V448.1h-2zM705 392.8h2V394.3h-2zM707 394.3h2V419.7h-2zM716 388.4h2V389.9h-2zM721 355.5h2V447.8h-2zM726 420.9h2V423.9h-2zM730 420.9h2V425.4h-2zM735 416.4h2V425.4h-2zM742 401.5h2V419.4h-2zM744 419.4h2V422.4h-2zM746 422.4h2V444.8h-2zM748 444.8h2V485.1h-2zM761 425.4h2V444.8h-2zM763 444.8h2V519.4h-2zM771 500.0h2V503.0h-2zM778 461.2h2V510.4h-2zM785 488.1h2V511.9h-2zM788 511.9h2V525.4h-2zM790 525.4h2V558.2h-2zM793 558.2h2V570.7h-2zM800 550.7h2V574.0h-2zM817 464.2h2V500.0h-2zM819 500.0h2V501.5h-2zM821 501.5h2V519.4h-2zM823 519.4h2V528.4h-2zM825 528.4h2V550.7h-2zM830 549.3h2V552.2h-2zM834 535.8h2V567.2h-2zM837 567.2h2V591.0h-2zM840 591.0h2V622.4h-2zM842 622.4h2V629.9h-2zM852 591.0h2V611.9h-2zM854 611.9h2V699.0h-2zM858 689.2h2V690.7h-2zM860 690.3h2V691.8h-2zM862 691.3h2V694.0h-2zM864 694.0h2V737.3h-2zM873 679.3h2V691.3h-2zM876 691.3h2V692.8h-2zM879 659.6h2V666.2h-2zM887 600.5h2V602.7h-2zM888 602.7h2V607.1h-2zM890 607.1h2V608.6h-2zM897 555.2h2V600.0h-2zM899 600.0h2V606.0h-2zM909 562.7h2V596.4h-2zM916 443.3h2V452.2h-2zM921 426.3h2V432.8h-2zM924 432.8h2V447.8h-2zM926 447.8h2V586.3h-2zM929 586.3h2V655.2h-2zM933 643.2h2V649.8h-2zM960 543.3h2V546.3h-2zM965 537.3h2V552.2h-2zM968 552.2h2V555.2h-2zM978 401.9h2V403.4h-2zM981 403.4h2V427.3h-2zM988 369.1h2V373.6h-2zM990 373.6h2V375.1h-2zM993 375.1h2V376.6h-2zM998 375.1h2V376.6h-2zM1002 360.1h2V363.1h-2zM1010 354.2h2V355.7h-2zM1016 315.4h2V364.6h-2zM1030 346.7h2V358.7h-2zM1033 358.7h2V361.6h-2zM1035 361.6h2V372.1h-2zM1040 367.6h2V391.5h-2zM1048 351.2h2V364.6h-2zM1052 361.6h2V369.1h-2zM1055 369.1h2V372.1h-2zM1057 372.1h2V378.1h-2zM1061 370.0h2V442.2h-2zM1065 415.4h2V419.9h-2zM1068 419.9h2V430.3h-2zM1070 430.3h2V455.7h-2zM1072 455.7h2V496.0h-2zM1080 457.2h2V461.6h-2zM1082 461.6h2V464.6h-2zM1087 461.6h2V466.1h-2zM1093 436.3h2V443.7h-2zM1096 443.7h2V445.2h-2zM1105 397.5h2V409.4h-2zM1109 378.1h2V388.5h-2zM1114 381.0h2V396.0h-2zM1116 396.0h2V399.0h-2zM1119 399.0h2V421.3h-2zM1122 421.3h2V442.2h-2zM1124 442.2h2V446.7h-2zM1130 443.7h2V452.7h-2zM1132 452.7h2V454.2h-2zM1136 404.9h2V415.4h-2zM1144 399.0h2V404.9h-2zM1151 355.7h2V363.1h-2zM1154 363.1h2V370.6h-2zM1159 357.2h2V379.6h-2zM1161 379.6h2V393.0h-2zM1164 393.0h2V454.2h-2zM1166 454.2h2V481.0h-2zM1169 481.0h2V488.5h-2zM1172 472.1h2V475.1h-2zM1176 473.6h2V493.0h-2zM1181 467.6h2V470.6h-2zM1186 469.1h2V482.5h-2zM1191 469.1h2V487.0h-2zM1193 487.0h2V518.4h-2zM1198 487.0h2V494.5h-2zM1201 494.5h2V503.4h-2zM1208 467.6h2V485.5h-2zM1211 485.5h2V586.7h-2zM1213 586.7h2V601.6h-2zM1215 601.6h2V603.1h-2zM1218 603.1h2V619.6h-2zM1221 619.6h2V658.4h-2zM1223 658.4h2V661.3h-2zM1226 661.3h2V700.1h-2zM1240 633.0h2V685.2h-2zM1243 685.2h2V686.7h-2zM1248 667.3h2V701.6h-2zM1250 701.6h2V710.6h-2zM1258 656.9h2V685.2h-2zM1260 685.2h2V688.2h-2zM1265 683.7h2V701.6h-2zM1268 701.6h2V733.0h-2zM1271 733.0h2V747.9h-2zM1280 725.5h2V728.5h-2zM1283 728.5h2V776.3h-2zM1288 721.0h2V728.5h-2zM1290 728.5h2V750.9h-2zM1295 739.0h2V759.9h-2zM1302 668.8h2V701.6h-2zM1312 631.5h2V676.3h-2zM1319 643.4h2V644.9h-2zM1325 643.4h2V691.2h-2zM1334 634.5h2V650.9h-2zM1337 650.9h2V652.4h-2zM1339 652.4h2V694.2h-2zM1342 694.2h2V727.0h-2zM1344 727.0h2V739.0h-2zM1347 739.0h2V750.9h-2zM1349 750.9h2V759.9h-2zM1352 759.9h2V764.3h-2zM1366 658.4h2V683.7h-2zM1371 674.8h2V706.1h-2zM1376 679.3h2V685.2h-2zM1382 680.7h2V682.2h-2zM1384 682.2h2V756.9h-2zM1391 615.5h2V618.5h-2zM1394 618.5h2V626.0h-2zM1399 617.0h2V629.0h-2zM1409 534.9h2V539.4h-2zM1413 531.9h2V543.9h-2zM1419 476.7h2V509.6h-2zM1426 500.6h2V503.6h-2zM1431 485.7h2V499.1h-2zM1443 441.5h2V461.8h-2zM1448 442.4h2V487.2h-2zM1455 481.2h2V490.1h-2zM1457 490.1h2V499.1h-2zM1461 484.2h2V548.4h-2zM1463 548.4h2V575.2h-2zM1468 542.4h2V548.4h-2zM1470 548.4h2V564.8h-2zM1475 545.4h2V549.9h-2zM1478 491.6h2V499.1h-2zM1481 499.1h2V502.1h-2zM1483 502.1h2V508.1h-2zM1486 508.1h2V517.0h-2zM1488 517.0h2V548.4h-2zM1493 503.6h2V540.9h-2zM1498 518.5h2V537.9h-2zM1504 529.0h2V564.8h-2zM1506 564.8h2V581.2h-2zM1508 581.2h2V591.6h-2zM1510 591.6h2V599.1h-2zM1513 599.1h2V606.6h-2zM1515 606.6h2V618.5h-2zM1520 576.7h2V590.1h-2zM1523 590.1h2V676.7h-2zM1525 676.7h2V678.2h-2zM1532 666.9h2V683.8h-2zM1535 683.8h2V703.7h-2zM1537 703.7h2V754.4h-2zM1542 729.6h2V731.9h-2zM1545 731.9h2V733.4h-2z" fill="#c02a35"/></g>
<g fill="none" stroke="#1e1e1e" stroke-opacity="0.95" stroke-width="1.15">
<rect x="1312.5" y="605" width="345" height="2.6"/>
<rect x="1531" y="656" width="124.5" height="3.5"/>
<rect x="1285.5" y="805.3" width="372" height="3"/>
</g>
<g fill="none" stroke-linecap="round">
<path d="M993.9 306L1703 514.8" stroke="#ff7f0e" stroke-width="6"/>
<path d="M830.2 748.9L1667.5 856.4" stroke="#ff7f0e" stroke-width="6"/>
</g>
<g filter="url(#sh)">
<path d="M1673.9 669.1L1678.9 686L1675.3 683.5L1662.4 715.6L1665.7 682L1661.3 682.5Z" fill="#2e9d7a"/>
<path d="M1659.5 743.3L1675 774L1678.7 770.4L1675.3 787.4L1661.6 776.4L1666.7 775.4Z" fill="#ff2000"/>
</g>
<defs><filter id="sh" x="-30%" y="-30%" width="160%" height="160%"><feDropShadow dx="0.6" dy="0.8" stdDeviation="0.7" flood-color="#000" flood-opacity="0.35"/></filter></defs>

</svg></div>
<div id="titlebar"><div id="fav">S</div><div id="title">US Tech 100, Daily - Google Chrome</div>
<svg style="position:absolute;left:1790px;top:0" width="127" height="24" viewBox="0 0 127 24"><g stroke="#fff" stroke-width="1" fill="none" shape-rendering="crispEdges"><path d="M10 11.5h10"/><path d="M56.5 8.5h7v7h-7z"/><path d="M58.5 8.5v-2h7v7h-2"/></g><path d="M103 6.5l9.5 9.5M112.5 6.5l-9.5 9.5" stroke="#fff" stroke-width="1.1" fill="none"/></svg>
</div>
<div id="urlbar"><div id="tune"><svg width="24" height="24" viewBox="0 0 24 24"><g stroke="#fff" stroke-width="1.5" fill="none"><circle cx="8.4" cy="8.8" r="2"/><path d="M12.5 8.8h5.5"/><circle cx="15.4" cy="15.2" r="2"/><path d="M6 15.2h5.5"/></g></svg></div>
<div id="url"><b>financials.spreadex.com</b>/en-GB/Home/LiveChartMain?id=XFinSprMchMkt|320709&amp;name=US%20Tech%20100,%20Daily&amp;temp=autogen_320709_1698042355682</div></div>
<div id="urlsep"></div>
<div id="toolbar">
<div class="tb" id="tb1" style="left:11.5px">4 hours</div><div class="car" style="left:63.5px"></div>
<div class="tb" id="tb2" style="left:93.5px">Technical</div><div class="car" style="left:158px"></div>
<div class="tb" id="tb3" style="left:188px">Display</div><div class="car" style="left:238px"></div>
<div class="tb" id="tb4" style="left:268.5px">More</div><div class="car" style="left:306.5px"></div>
<svg style="position:absolute;left:336px;top:11px" width="116" height="18" viewBox="0 0 116 18">
<g transform="translate(0 1)"><path d="M1.5 13.5v-10.2q0-.8.8-.8h3.4l1.6 1.8h5.2q.8 0 .8.8v1.6" fill="none" stroke="#333" stroke-width="1.2"/><path d="M1.4 14.6l2.9-7.2q.3-.7 1-.7h10.2q.9 0 .5.9l-2.6 6.3q-.3.7-1 .7z" fill="#333"/></g>
<path d="M36.5 2.2h10.6l3.2 3.2v9.9q0 .9-.9.9h-12.9q-.9 0-.9-.9v-12.2q0-.9.9-.9z" fill="#333"/><rect x="38.4" y="9.3" width="9.2" height="5" fill="#fff"/><rect x="38.4" y="2.2" width="7.4" height="4.4" fill="#fff"/><rect x="43" y="2.9" width="1.6" height="2.6" fill="#333"/>
<rect x="69" y="8" width="13" height="3" fill="#000"/>
<rect x="100" y="8" width="13" height="3" fill="#000"/><rect x="105" y="3" width="3" height="13" fill="#000"/>
</svg>
</div>
<div id="semi">;</div>
<div id="tbline"></div>
<div id="charttitle">US TECH 100, DAILY</div>
<div id="yaxis"></div><div id="xaxis"></div>
<div class="yl" style="top:147.0px">16000</div><div class="yt" style="top:154.0px"></div><div class="yl" style="top:251.0px">15750</div><div class="yt" style="top:258.0px"></div><div class="yl" style="top:354.0px">15500</div><div class="yt" style="top:361.0px"></div><div class="yl" style="top:458.0px">15250</div><div class="yt" style="top:465.0px"></div><div class="yl" style="top:561.0px">15000</div><div class="yt" style="top:568.0px"></div><div class="yl" style="top:665.0px">14750</div><div class="yt" style="top:672.0px"></div><div class="yl" style="top:769.0px">14500</div><div class="yt" style="top:776.0px"></div><div class="yl" style="top:872.0px">14250</div><div class="yt" style="top:879.0px"></div><div class="xl" style="left:2.5px">Jun</div><div class="xt" style="left:32px"></div><div class="xl" style="left:137.5px">14</div><div class="xt" style="left:167px"></div><div class="xl" style="left:323.5px">Jul</div><div class="xt" style="left:353px"></div><div class="xl" style="left:458.5px">14</div><div class="xt" style="left:488px"></div><div class="xl" style="left:635.5px">Aug</div><div class="xt" style="left:665px"></div><div class="xl" style="left:770.5px">14</div><div class="xt" style="left:800px"></div><div class="xl" style="left:918.5px">28</div><div class="xt" style="left:948px"></div><div class="xl" style="left:977.5px">Sept</div><div class="xt" style="left:1007px"></div><div class="xl" style="left:1111.5px">14</div><div class="xt" style="left:1141px"></div><div class="xl" style="left:1286.5px">Oct</div><div class="xt" style="left:1316px"></div><div class="xl" style="left:1434.5px">14</div><div class="xt" style="left:1464px"></div><div class="xl" style="left:1584.5px">28</div><div class="xt" style="left:1614px"></div><div class="xl" style="left:1645.5px">Nov</div><div class="xt" style="left:1675px"></div>
<svg id="ptag" viewBox="0 0 56 17"><path d="M0 8.5L9.3 0.3H53q2 0 2 2V14.7q0 2 -2 2H9.3z" fill="#5f5ba7"/></svg>
<div id="ptagtxt">14604.3</div>
<div class="st g" style="left:10.5px;top:944.5px">TODAY:</div><div class="st g" style="left:63px;top:944.5px">H:</div><div class="st d" style="left:76.5px;top:944.5px">14618.8</div><div class="st g" style="left:123px;top:944.5px">L:</div><div class="st d" style="left:134px;top:944.5px">14548.5</div><div class="st t" style="left:185px;top:944.5px">41.9</div><div class="st t" style="left:228px;top:944.5px">0.3%</div>
<div class="st g" style="left:10.5px;top:958.5px">CHART:</div><div class="st g" style="left:63px;top:958.5px">H:</div><div class="st d" style="left:76.5px;top:958.5px">15932.0</div><div class="st g" style="left:123px;top:958.5px">L:</div><div class="st d" style="left:134px;top:958.5px">14208.6</div><div class="st t" style="left:185px;top:958.5px">268.5</div><div class="st t" style="left:228px;top:958.5px">1.9%</div>
<svg style="position:absolute;left:1570px;top:944px" width="290" height="32" viewBox="1570 944 290 32">
<path d="M1575.4 956.6L1578.2 953.8L1584 959.6L1585.9 957.6L1587.4 965.7L1579.3 963.9L1581.2 962.3Z" fill="#5a5a5a"/>
<path d="M1600.1 965.3V962.6Q1600.1 960 1603 959.6L1609.2 958.9Q1612.2 958.5 1612.2 955.6V952.9" fill="none" stroke="#5a5a5a" stroke-width="2" stroke-linecap="round"/>
<g fill="#5a5a5a"><rect x="1620" y="950" width="20" height="1.8"/><rect x="1620" y="968.2" width="20" height="1.7"/>
<rect x="1620" y="953.8" width="4" height="2.3"/><rect x="1627.5" y="953.8" width="5.1" height="2.3"/><rect x="1636.1" y="953.8" width="3.9" height="2.3"/>
<rect x="1620" y="964" width="4" height="2.3"/><rect x="1627.5" y="964" width="5.1" height="2.3"/><rect x="1636.1" y="964" width="3.9" height="2.3"/></g>
<g fill="#c4c4c4"><rect x="1620" y="959.2" width="4" height="2.3"/><rect x="1627.5" y="959.2" width="5.1" height="2.3"/><rect x="1636.1" y="959.2" width="3.9" height="2.3"/></g>
<g fill="none" stroke="#5a5a5a" stroke-width="1.1"><path d="M1644.6 950V969.3H1664"/><path d="M1644.6 969.3L1654.6 953"/><path d="M1644.6 969.3L1661.6 959.2"/>
<path d="M1668.2 959.7H1687.8" stroke-width="1.3"/>
<path d="M1694.4 952.3L1709.5 967.5" stroke-width="1.4"/>
<path d="M1718.6 952.6H1733.5V967.2H1718.6Z" stroke-width="1"/>
<path d="M1767.2 966.6L1780.3 953.3" stroke-width="1.2"/></g>
<rect x="1692.1" y="950.2" width="4.6" height="4.2" rx="0.8" fill="#5a5a5a"/><rect x="1707.3" y="965.2" width="4.5" height="4.6" rx="1.6" fill="#5a5a5a"/>
<text x="1742" y="961.7" font-family="Liberation Sans, sans-serif" font-size="8.8" fill="#666" textLength="16.2" lengthAdjust="spacingAndGlyphs">Abc</text>
<rect x="1741.1" y="962.9" width="17.8" height="1.1" fill="#666"/>
<rect x="1797" y="951" width="1.8" height="18.7" fill="#8a8a8a"/>
<g transform="translate(1814.25 967.65) rotate(-45.7)"><rect x="0" y="-2.6" width="18.9" height="5.2" fill="#666"/>
<g fill="#fff"><rect x="2.6" y="0.9" width="0.8" height="1.7"/><rect x="4.8" y="0.9" width="0.8" height="1.7"/><rect x="7" y="0.9" width="0.8" height="1.7"/><rect x="9.2" y="0.9" width="0.8" height="1.7"/><rect x="11.4" y="0.9" width="0.8" height="1.7"/><rect x="13.6" y="0.9" width="0.8" height="1.7"/><rect x="15.8" y="0.9" width="0.8" height="1.7"/></g></g>
<path d="M1838.6 956.7L1845.8 963.8M1845.8 956.7L1838.6 963.8" stroke="#9a9a9a" stroke-width="2.4" fill="none"/>
</svg>

</div></body></html>
